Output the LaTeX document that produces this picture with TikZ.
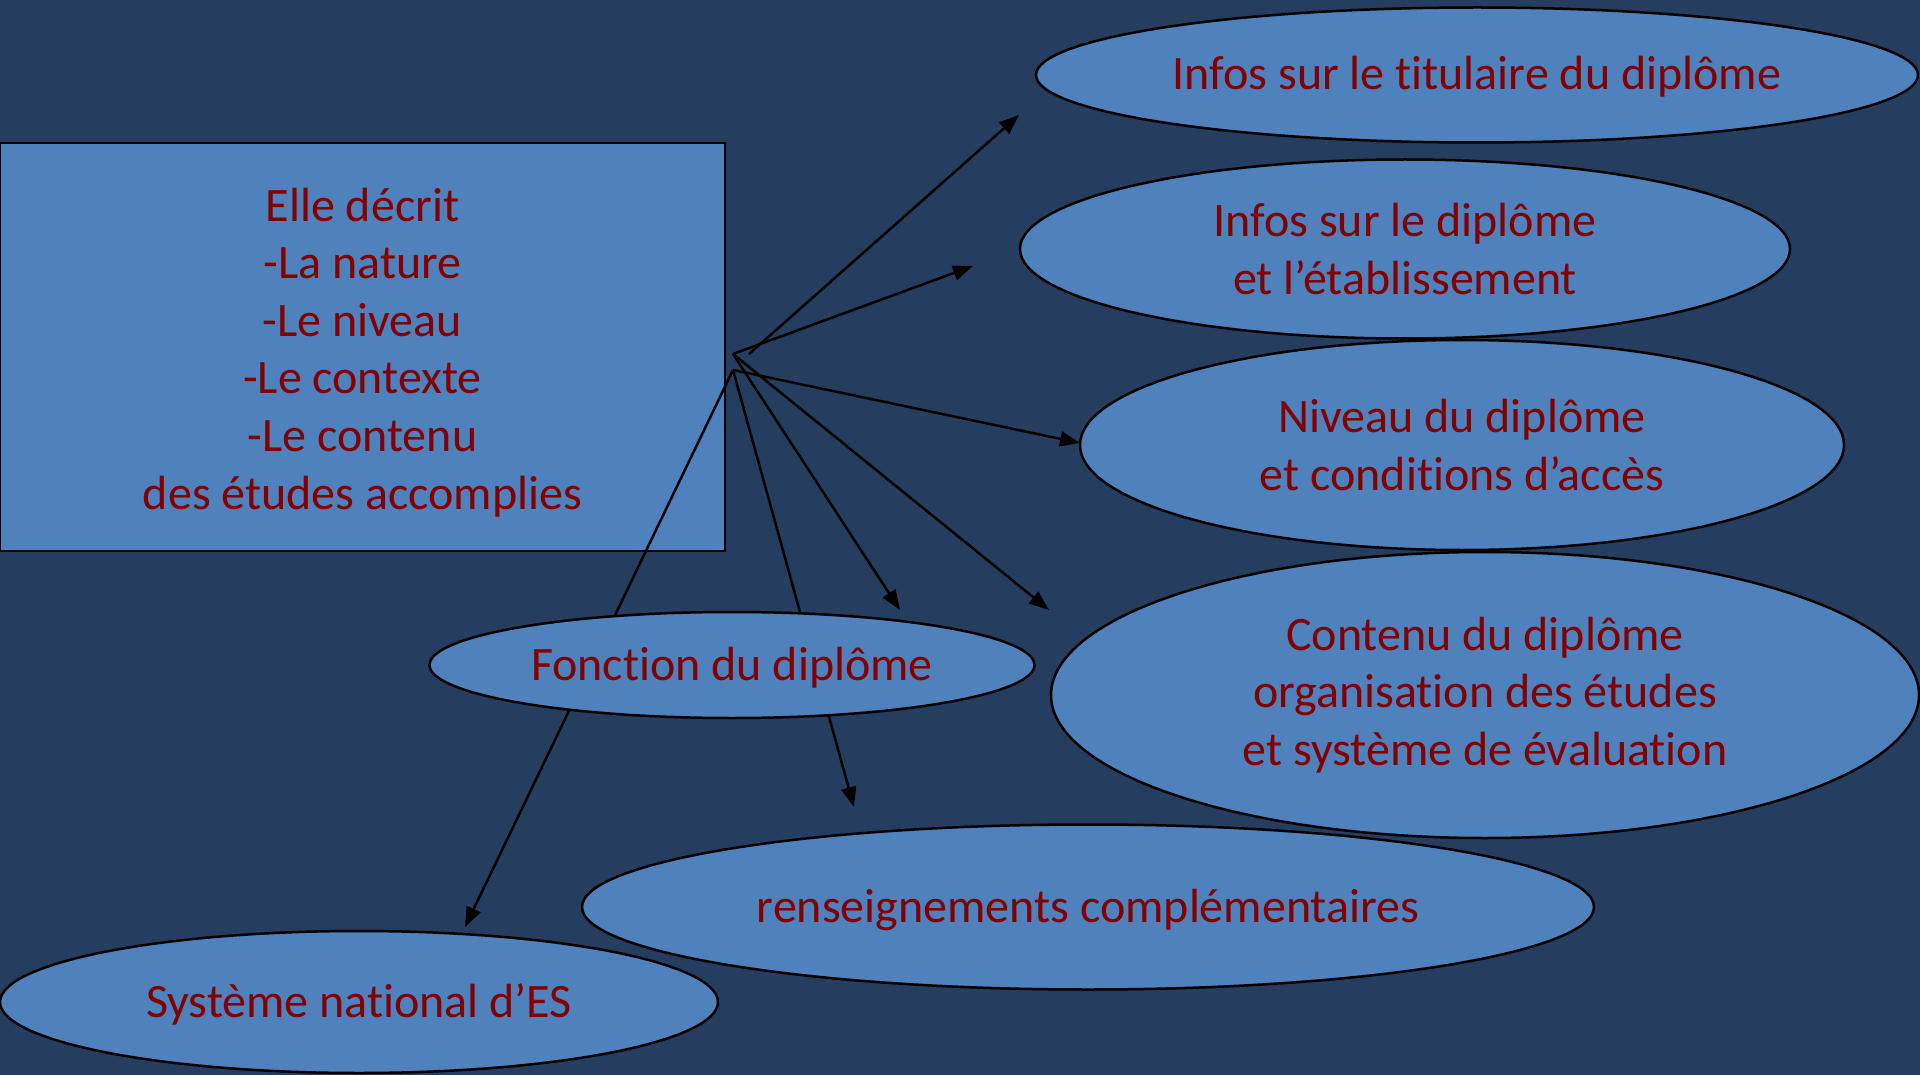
\documentclass[tikz,border=0pt]{standalone}
\usepackage{fontspec}
\setmainfont{Carlito}[Ligatures={NoCommon}]
\usetikzlibrary{shapes.geometric,arrows.meta}
\definecolor{fond}{RGB}{37,61,94}
\definecolor{bleu}{RGB}{79,129,189}
\definecolor{rouge}{RGB}{130,0,0}
\tikzset{
  zeile/.style={execute at begin node={\rule{0pt}{44pt}}, execute at end node={\rule[-14pt]{0pt}{0pt}}},
  bulle/.style={ellipse, draw=black, line width=2.5pt, fill=bleu, inner sep=0pt, align=center, text=rouge},
  fleche/.style={line width=2.5pt, -{Triangle[length=20pt,width=15pt]}}
}

\begin{document}
\begin{tikzpicture}[x=1pt, y=-1pt, font=\fontsize{48}{57.6}\selectfont]
    % Hintergrund
    \fill[fond] (0,0) rectangle (1920,1075);
    \useasboundingbox (0,0) rectangle (1920,1075);

    % Kasten links
    \node[draw=black, line width=2.5pt, fill=bleu, text=rouge, align=center, inner sep=0pt,
          minimum width=725pt, minimum height=408pt] (kasten) at (362.5,347)
          {\rule{0pt}{44pt}Elle décrit\\-La nature\\-Le niveau\\-Le contexte\\-Le contenu\\des études accomplies};

    % Ellipsen
    \node[bulle, zeile, minimum width=882pt, minimum height=135pt] (titulaire) at (1477,75)
          {Infos sur le titulaire du diplôme};
    \node[bulle, minimum width=770pt, minimum height=179pt] (etab) at (1405,249)
          {Infos sur le diplôme\\et l’établissement};
    \node[bulle, minimum width=764pt, minimum height=210pt] (niveau) at (1462,445)
          {Niveau du diplôme\\et conditions d’accès};
    \node[bulle, minimum width=868pt, minimum height=286pt] (contenu) at (1485,695)
          {Contenu du diplôme\\organisation des études\\et système de évaluation};
    \node[bulle, zeile, minimum width=1012pt, minimum height=165pt] (rens) at (1088,907)
          {renseignements complémentaires};
    \node[bulle, zeile, minimum width=718pt, minimum height=142pt] (systeme) at (359,1002)
          {Système national d’ES};

    % Ausgangspunkte und Pfeilspitzen
    \coordinate (o1) at (733,354);
    \coordinate (o2) at (733,370);
    \coordinate (o3) at (749,354);
    \coordinate (t1) at (1019,115);
    \coordinate (t2) at (973,266);
    \coordinate (t3) at (1080,443);
    \coordinate (t4) at (900,610);
    \coordinate (t5) at (1049,610);
    \coordinate (t6) at (854,807);
    \coordinate (t7) at (465,927);

    % Pfeile
    \draw[fleche] (o3) -- (t1);
    \draw[fleche] (o1) -- (t2);
    \draw[fleche] (o2) -- (t3);
    \draw[fleche] (o1) -- (t4);
    \draw[fleche] (o1) -- (t5);
    \draw[fleche] (o2) -- (t6);
    \draw[fleche] (o2) -- (t7);

    % Fonction ueber den Pfeilen
    \node[bulle, zeile, minimum width=605pt, minimum height=106pt] (fonction) at (732,665)
          {Fonction du diplôme};
\end{tikzpicture}
\end{document}
